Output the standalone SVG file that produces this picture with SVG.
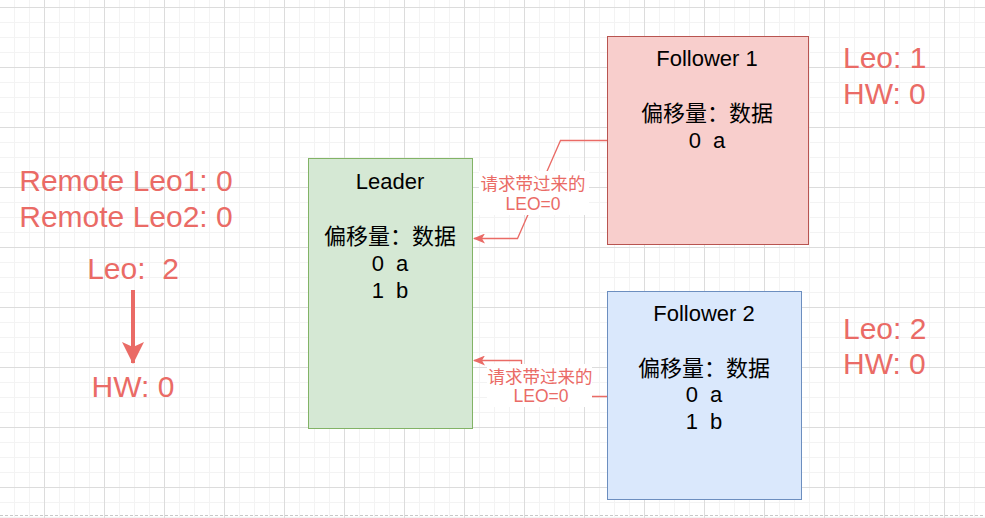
<svg xmlns="http://www.w3.org/2000/svg" width="985" height="518" viewBox="0 0 985 518">
<style>
.t{font-family:"Liberation Sans","Noto Sans CJK SC",sans-serif;font-size:22px;fill:#000;text-anchor:middle;white-space:pre}
.r{font-family:"Liberation Sans","Noto Sans CJK SC",sans-serif;font-size:30px;fill:#EA6B66;white-space:pre}
.l{font-family:"Liberation Sans","Noto Sans CJK SC",sans-serif;font-size:17.5px;fill:#EA6B66;text-anchor:middle}
.c{fill:none;stroke:#EA6B66;stroke-width:1.3}
</style>
<defs>
<pattern id="grid" patternUnits="userSpaceOnUse" x="44" y="7" width="60" height="60">
<path d="M15.5 0V60M30.5 0V60M45.5 0V60M0 15.5H60M0 30.5H60M0 45.5H60" stroke="#f3f3f3" stroke-width="1"/>
<path d="M0.5 0V60M0 0.5H60" stroke="#dcdcdc" stroke-width="1"/>
</pattern>
<marker id="arr" viewBox="0 0 12 10" refX="11" refY="5" markerWidth="12" markerHeight="10" markerUnits="userSpaceOnUse" orient="auto">
<path d="M0 0L12 5L0 10L3 5Z" fill="#EA6B66"/>
</marker>
<marker id="big" viewBox="0 0 22 22" refX="21" refY="11" markerWidth="22" markerHeight="22" markerUnits="userSpaceOnUse" orient="auto">
<path d="M0 0L22 11L0 22L5 11Z" fill="#EA6B66"/>
</marker>
</defs>
<rect width="985" height="518" fill="#fff"/>
<rect width="985" height="518" fill="url(#grid)"/>
<line x1="0" y1="515.5" x2="985" y2="515.5" stroke="#c8c8c8" stroke-dasharray="3 2"/>

<g id="connectors">
<path class="c" d="M607 140.5H560.5L517.5 238.5H474" marker-end="url(#arr)"/>
<path class="c" d="M607 396.5H521.5V360.5H474" marker-end="url(#arr)"/>
<path d="M133 290V363" stroke="#EA6B66" stroke-width="4" fill="none" marker-end="url(#big)"/>
</g>

<g id="label1">
<rect x="479" y="171" width="110" height="44" fill="#fff"/>
<text class="l" x="533" y="190">请求带过来的</text>
<text class="l" x="533" y="210">LEO=0</text>
</g>
<g id="label2">
<rect x="487" y="364" width="105" height="43" fill="#fff"/>
<text class="l" x="540" y="383">请求带过来的</text>
<text class="l" x="541" y="402">LEO=0</text>
</g>

<g id="follower1">
<rect x="607.5" y="36.5" width="201" height="208" fill="#f8cecc" stroke="#b85450"/>
<text class="t" x="707" y="66">Follower 1</text>
<text class="t" x="707" y="121">偏移量：数据</text>
<text class="t" x="707" y="148">0  a</text>
</g>

<g id="leader">
<rect x="308.5" y="158.5" width="164" height="270" fill="#d5e8d4" stroke="#82b366"/>
<text class="t" x="390" y="189">Leader</text>
<text class="t" x="390" y="244">偏移量：数据</text>
<text class="t" x="390" y="271">0  a</text>
<text class="t" x="390" y="298">1  b</text>
</g>

<g id="follower2">
<rect x="607.5" y="291.5" width="194" height="208" fill="#dae8fc" stroke="#6c8ebf"/>
<text class="t" x="704" y="321">Follower 2</text>
<text class="t" x="704" y="376">偏移量：数据</text>
<text class="t" x="704" y="402">0  a</text>
<text class="t" x="704" y="429">1  b</text>
</g>

<g id="leader-state">
<text class="r" x="126" y="191" text-anchor="middle">Remote Leo1: 0</text>
<text class="r" x="126" y="227" text-anchor="middle">Remote Leo2: 0</text>
<text class="r" x="133" y="279" text-anchor="middle">Leo:  2</text>
<text class="r" x="133" y="397" text-anchor="middle">HW: 0</text>
</g>

<g id="follower1-state">
<text class="r" x="843" y="68">Leo: 1</text>
<text class="r" x="843" y="104">HW: 0</text>
</g>

<g id="follower2-state">
<text class="r" x="843" y="339">Leo: 2</text>
<text class="r" x="843" y="374">HW: 0</text>
</g>
</svg>
